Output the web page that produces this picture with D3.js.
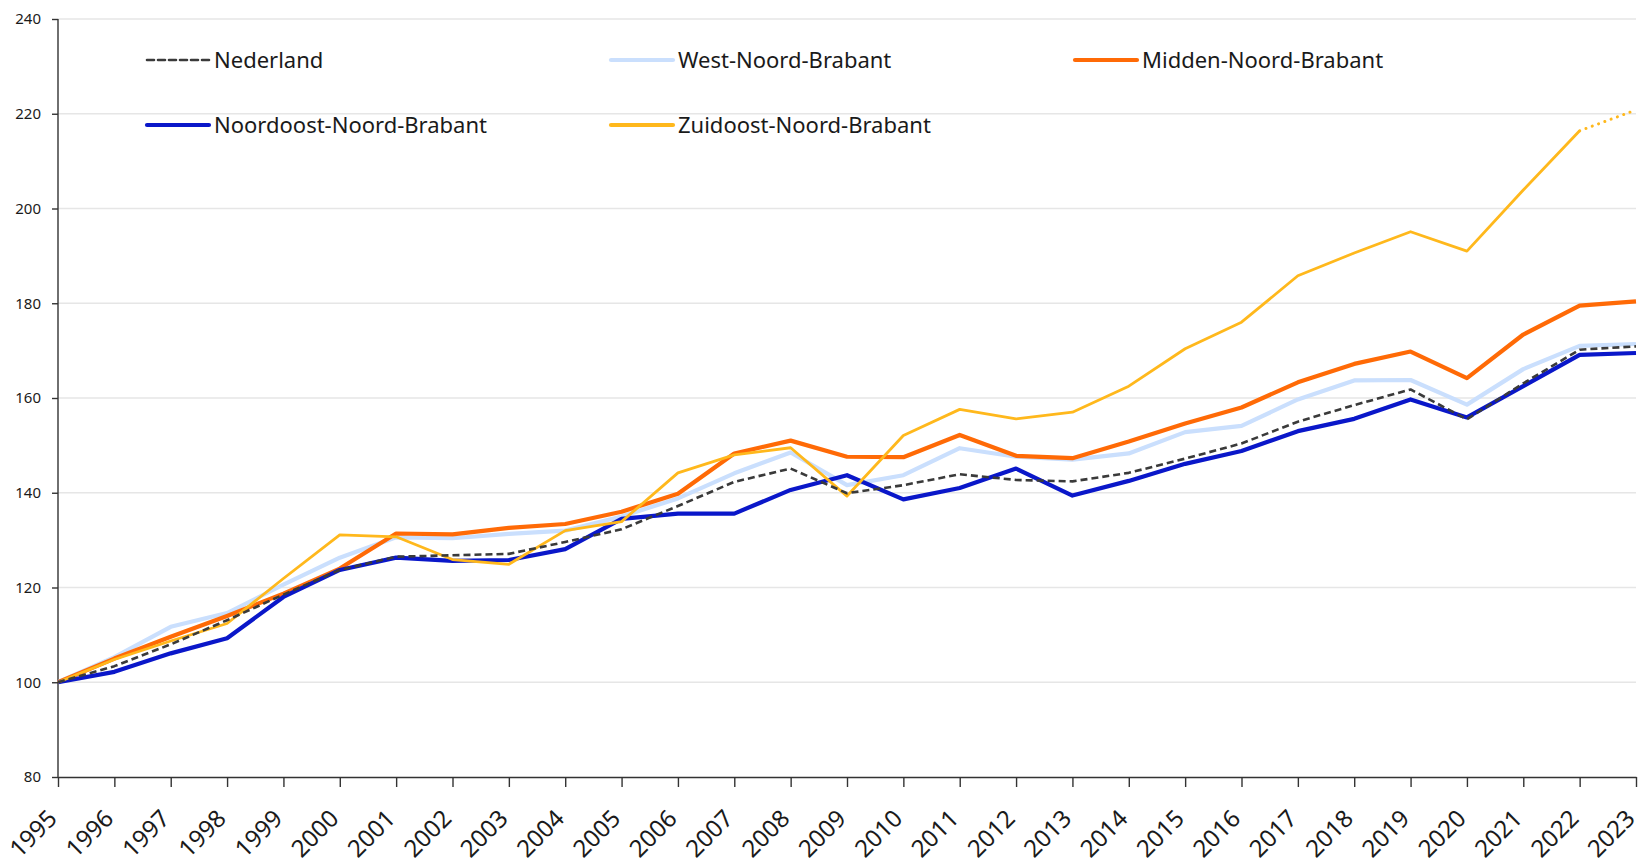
<!DOCTYPE html>
<html>
<head>
<meta charset="utf-8">
<script src="https://cdn.jsdelivr.net/npm/d3@7"></script>
<style>
  body { margin: 0; background: #fff; }
  svg text { font-family: "Noto Sans", "Open Sans", sans-serif; fill: #1a1a1a; }
</style>
</head>
<body>
<div id="chart"></div>
<script>
const WIDTH = 1644
const HEIGHT = 863
const MARGIN = { TOP: 19, BOTTOM: 86, LEFT: 58, RIGHT: 8 }

// data (index, 1995 = 100)
const years = [1995, 1996, 1997, 1998, 1999, 2000, 2001, 2002, 2003, 2004, 2005, 2006, 2007, 2008, 2009,
  2010, 2011, 2012, 2013, 2014, 2015, 2016, 2017, 2018, 2019, 2020, 2021, 2022, 2023]
const yTicks = [80, 100, 120, 140, 160, 180, 200, 220, 240]

const nederland = [100, 103.4, 108.0, 113.1, 118.5, 123.7, 126.5, 126.8, 127.1, 129.6, 132.3, 137.2, 142.3, 145.1, 139.9,
  141.6, 143.9, 142.7, 142.4, 144.2, 147.2, 150.4, 155.0, 158.5, 161.8, 155.5, 163.1, 170.2, 170.9]
const westNB = [100, 105.3, 111.7, 114.6, 120.6, 126.3, 130.6, 130.4, 131.3, 132.0, 135.0, 138.8, 144.1, 148.5, 141.6,
  143.7, 149.4, 147.6, 147.0, 148.3, 152.8, 154.1, 159.7, 163.7, 163.8, 158.6, 166.1, 171.0, 171.4]
const middenNB = [100, 105.0, 109.6, 114.0, 118.7, 124.0, 131.4, 131.2, 132.6, 133.4, 136.0, 139.8, 148.3, 151.0, 147.6,
  147.5, 152.2, 147.8, 147.3, 150.8, 154.6, 158.0, 163.3, 167.2, 169.8, 164.2, 173.4, 179.5, 180.4]
const noordoostNB = [100, 102.2, 106.1, 109.3, 118.0, 123.7, 126.3, 125.6, 125.8, 128.1, 134.5, 135.6, 135.6, 140.6, 143.7,
  138.6, 141.0, 145.1, 139.4, 142.5, 146.1, 148.8, 153.0, 155.6, 159.7, 155.9, 162.5, 169.1, 169.5]
const zuidoostNB = [100, 104.8, 108.7, 112.4, 121.9, 131.1, 130.7, 125.9, 124.9, 132.0, 133.9, 144.2, 148.0, 149.5, 139.3,
  152.1, 157.6, 155.6, 157.0, 162.5, 170.4, 176.0, 185.8, 190.6, 195.1, 191.0, 203.9, 216.4, 220.8]

// last year of Zuidoost is a forecast -> dotted
const forecastFrom = 2022

const series = [
  { name: "Nederland", values: nederland, color: "#3a3a3a", width: 2.6, dash: "7,4" },
  { name: "West-Noord-Brabant", values: westNB, color: "#cadffd", width: 4.2 },
  { name: "Midden-Noord-Brabant", values: middenNB, color: "#ff6a06", width: 4.2 },
  { name: "Noordoost-Noord-Brabant", values: noordoostNB, color: "#0a17c9", width: 4.2 },
  { name: "Zuidoost-Noord-Brabant", values: zuidoostNB, color: "#ffb81c", width: 2.8, forecast: true }
]

const svg = d3.select("#chart").append("svg")
  .attr("width", WIDTH)
  .attr("height", HEIGHT)

const x = d3.scaleLinear()
  .domain([years[0], years[years.length - 1]])
  .range([MARGIN.LEFT, WIDTH - MARGIN.RIGHT])

const y = d3.scaleLinear()
  .domain([80, 240])
  .range([HEIGHT - MARGIN.BOTTOM, MARGIN.TOP])

// gridlines
svg.append("g")
  .selectAll("line")
  .data(yTicks.slice(1))
  .enter().append("line")
    .attr("x1", x.range()[0])
    .attr("x2", x.range()[1])
    .attr("y1", d => y(d))
    .attr("y2", d => y(d))
    .attr("stroke", "#e6e6e6")
    .attr("stroke-width", 1.5)

// y axis
const yAxis = svg.append("g")
  .attr("transform", `translate(${MARGIN.LEFT}, 0)`)
  .call(d3.axisLeft(y).tickValues(yTicks).tickSize(6).tickPadding(11))
yAxis.selectAll("text").style("font-size", "15px")

// x axis, rotated year labels
const xAxis = svg.append("g")
  .attr("transform", `translate(0, ${HEIGHT - MARGIN.BOTTOM})`)
  .call(d3.axisBottom(x).tickValues(years).tickFormat(d3.format("d")).tickSize(10).tickSizeOuter(0))
xAxis.selectAll("text")
  .style("font-size", "24px")
  .attr("text-anchor", "end")
  .attr("dy", null)
  .attr("y", 0)
  .attr("transform", "translate(0, 43) rotate(-45)")

svg.selectAll(".domain, .tick line").attr("stroke", "#333").attr("stroke-width", 1.4)
yAxis.select(".domain").attr("d", `M0,${y(80)}V${y(240)}`)

// lines (Nederland on top)
const line = d3.line()
  .x(d => x(d.year))
  .y(d => y(d.value))

const drawOrder = [1, 2, 3, 4, 0]
drawOrder.forEach(i => {
  const s = series[i]
  let pts = years.map((yr, j) => ({ year: yr, value: s.values[j] }))
  let solid = s.forecast ? pts.filter(p => p.year <= forecastFrom) : pts
  svg.append("path")
    .datum(solid)
    .attr("fill", "none")
    .attr("stroke", s.color)
    .attr("stroke-width", s.width)
    .attr("stroke-linejoin", "round")
    .attr("stroke-dasharray", s.dash || null)
    .attr("d", line)
  if (s.forecast) {
    svg.append("path")
      .datum(pts.filter(p => p.year >= forecastFrom))
      .attr("fill", "none")
      .attr("stroke", s.color)
      .attr("stroke-width", 3)
      .attr("stroke-linecap", "round")
      .attr("stroke-dasharray", "0.1,6.6")
      .attr("d", line)
  }
})

// legend
const legendPos = [
  { x: 147, y: 60 }, { x: 611, y: 60 }, { x: 1075, y: 60 },
  { x: 147, y: 125 }, { x: 611, y: 125 }
]
const legend = svg.append("g")
series.forEach((s, i) => {
  const g = legend.append("g").attr("transform", `translate(${legendPos[i].x}, ${legendPos[i].y})`)
  g.append("line")
    .attr("x1", 0).attr("x2", 62)
    .attr("stroke", s.color)
    .attr("stroke-width", s.dash ? 2.6 : 4.2)
    .attr("stroke-linecap", "round")
    .attr("stroke-dasharray", s.dash || null)
  g.append("text")
    .attr("x", 67)
    .attr("dy", "0.35em")
    .style("font-size", "22px")
    .text(s.name)
})
</script>
</body>
</html>
